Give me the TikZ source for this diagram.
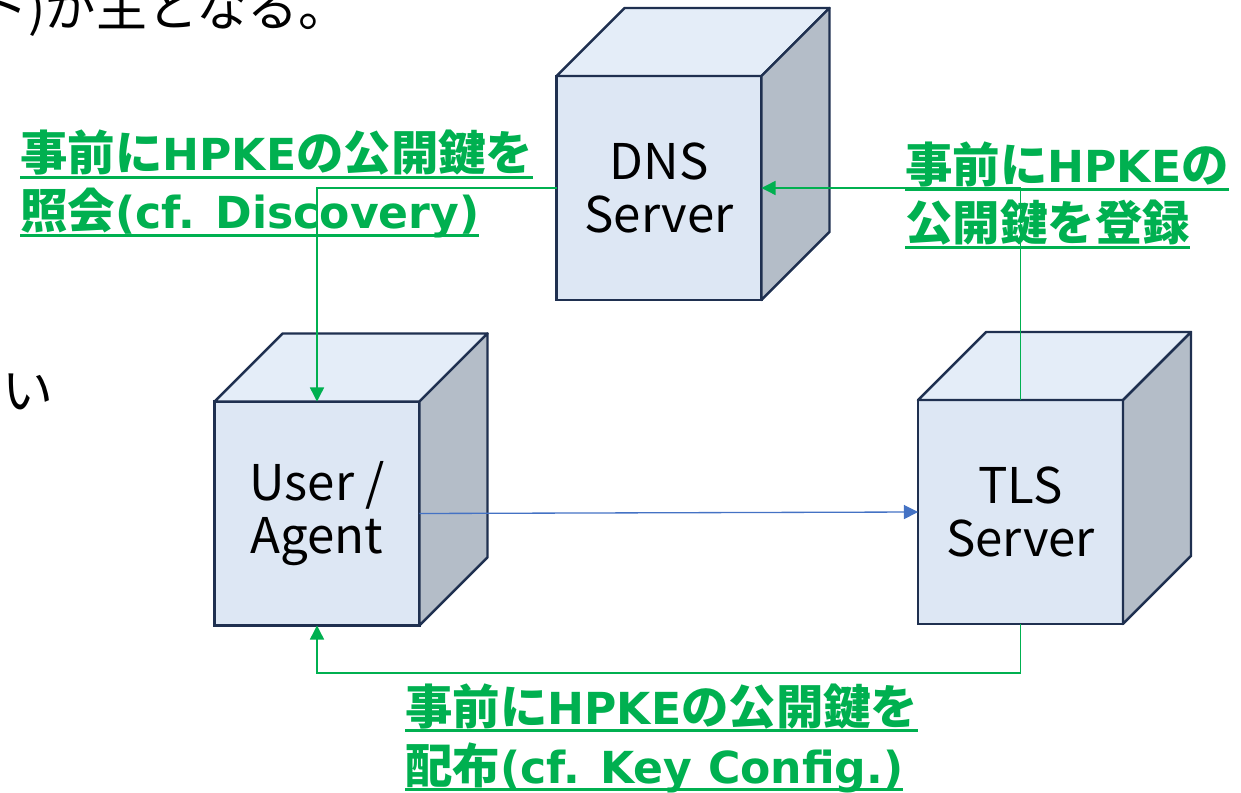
\documentclass[tikz,border=0pt]{standalone}
\usepackage{fontspec}
\setmainfont{Noto Sans CJK JP}
\newfontfamily\latn[Scale=0.93]{DejaVu Sans}
\usetikzlibrary{arrows.meta,calc}

\definecolor{facefront}{HTML}{DDE7F4}
\definecolor{facetop}{HTML}{E4EDF8}
\definecolor{faceside}{HTML}{B4BDC8}
\definecolor{edge}{HTML}{1F3050}
\definecolor{keygreen}{HTML}{00B050}
\definecolor{flowblue}{HTML}{4472C4}

% thick underline as long as the text it sits under
\newcommand\keyul[1]{\setbox0\hbox{#1}\rlap{\rule[-4.6pt]{\wd0}{1.6pt}}\box0}

% top and right faces of a server cube, hung on its front-face node
\newcommand\cubefaces[1]{%
  \draw[cubetop] (#1.north west) -- ++(68,-68) -- ($(#1.north east)+(68,-68)$) -- (#1.north east) -- cycle;
  \draw[cubeside] (#1.north east) -- ++(68,-68) -- ($(#1.south east)+(68,-68)$) -- (#1.south east) -- cycle;}

\tikzset{
  cubefront/.style={draw=edge, fill=facefront, line width=1.4pt, outer sep=0pt, inner sep=0pt,
    minimum width=4.1cm, minimum height=4.48cm, align=center,
    font=\fontsize{28}{30.5}\selectfont},
  cubetop/.style={draw=edge, fill=facetop, line width=1.4pt, line join=round},
  cubeside/.style={draw=edge, fill=faceside, line width=1.4pt, line join=round},
  keyflow/.style={draw=keygreen, line width=0.75pt, -{Triangle[length=8pt,width=8pt]}},
  dataflow/.style={draw=flowblue, line width=0.75pt, -{Triangle[length=8pt,width=8pt]}},
  notelabel/.style={anchor=base west, text=keygreen, inner sep=0pt,
    font=\fontsize{27}{30}\selectfont\bfseries},
  bodytext/.style={inner sep=0pt, font=\fontsize{29}{32}\selectfont},
}

\begin{document}
\begin{tikzpicture}[x=0.02cm, y=-0.02cm]
\useasboundingbox (0,0) rectangle (1241,793);

% fragments of the surrounding slide text
\node[bodytext, anchor=base west] (headline) at (45,27) {\llap{ト)}が主となる。};
\node[bodytext] (sidetext) at (28,392) {い};

% server cubes
\node[cubefront] (dns)  at (659,188)   {DNS\\Server};
\cubefaces{dns}
\node[cubefront] (user) at (317,513.5) {User /\\Agent};
\cubefaces{user}
\node[cubefront] (tls)  at (1020.5,512) {TLS\\Server};
\cubefaces{tls}

% key distribution paths
\draw[keyflow] (dns.west) -| (user.north);
\draw[keyflow] (tls.north) |- (dns.east);
\draw[keyflow] (tls.south) -- ++(0,49) -| (user.south);
\draw[dataflow] (user.east) -- (tls.west);

% path labels
\node[notelabel] (lookup1) at (20,171) {\keyul{事前に{\latn HPKE}の公開鍵を}};
\node[notelabel] (lookup2) at (20,229) {\keyul{照会{\latn (cf. Discovery)}}};
\node[notelabel] (publish1) at (905,183) {\keyul{事前に{\latn HPKE}の}};
\node[notelabel] (publish2) at (905,241) {\keyul{公開鍵を登録}};
\node[notelabel] (deliver1) at (405,724) {\keyul{事前に{\latn HPKE}の公開鍵を}};
\node[notelabel] (deliver2) at (405,783) {\keyul{配布{\latn (cf. Key Config.)}}};
\end{tikzpicture}
\end{document}
